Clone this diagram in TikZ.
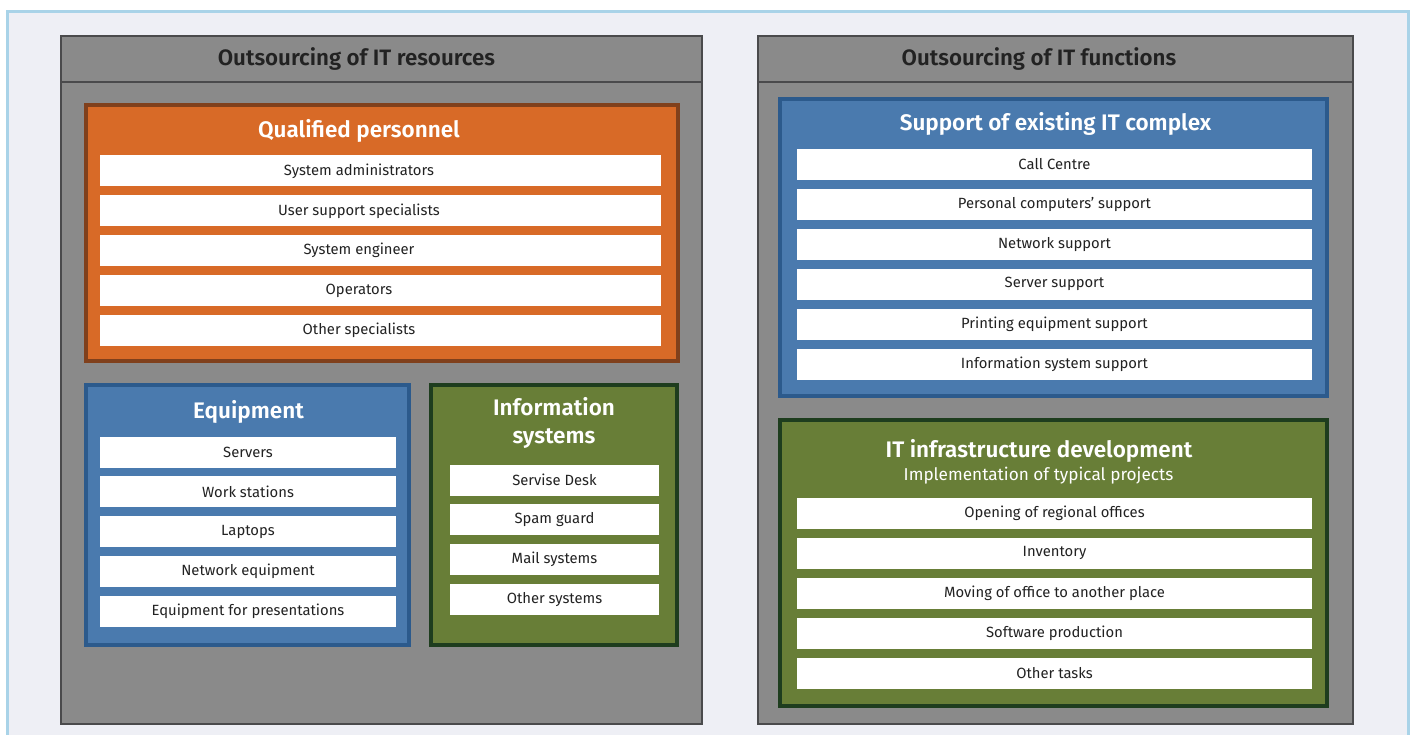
\documentclass[tikz,border=0pt]{standalone}
\usepackage{fontspec}
\setmainfont{Fira Sans}[BoldFont={Fira Sans SemiBold}]
\usetikzlibrary{positioning}

\definecolor{pagebg}{HTML}{EEEFF5}
\definecolor{pageline}{HTML}{A9D3E8}
\definecolor{panelgray}{HTML}{8A8A8A}
\definecolor{paneldark}{HTML}{4A4A4C}
\definecolor{orfill}{HTML}{D86A27}
\definecolor{ordark}{HTML}{80401C}
\definecolor{blfill}{HTML}{4A7AAE}
\definecolor{bldark}{HTML}{2C5A8C}
\definecolor{grfill}{HTML}{687E37}
\definecolor{grdark}{HTML}{1E3D1E}
\definecolor{inktext}{HTML}{222222}

\begin{document}
\begin{tikzpicture}[
    x=1pt, y=-1pt,
    node distance=8.5pt,
    panel/.style={
        rectangle, draw=paneldark, fill=panelgray, line width=2.5pt,
        inner sep=0pt
    },
    head/.style={
        rectangle, draw=paneldark, fill=panelgray, line width=2.5pt,
        minimum width=641pt, minimum height=46pt,
        font=\fontsize{22.3}{25}\selectfont\bfseries, text=inktext
    },
    frame/.style={
        rectangle, line width=4pt, inner sep=0pt
    },
    ttl/.style={
        align=center, text=white,
        font=\fontsize{22.5}{28}\selectfont\bfseries
    },
    item/.style={
        rectangle, fill=white, minimum height=31pt, inner sep=0pt,
        text=inktext, font=\fontsize{14.8}{17}\selectfont
    },
    nudge/.style={execute at begin node={\hskip-#1}},
]
% Page
\path[use as bounding box] (0,0) rectangle (1416,735);
\draw[pageline, fill=pagebg, line width=3pt] (7.5,11.5) rectangle (1408,760);

% Panels
\node[panel, minimum width=641pt, minimum height=688pt] (resP) at (381.5,380) {};
\node[head, nudge=50pt] (resH) at (381.5,59) {Outsourcing of IT resources};
\node[panel, minimum width=595pt, minimum height=688pt] (funP) at (1055.5,380) {};
\node[head, minimum width=595pt, nudge=33pt] (funH) at (1055.5,59) {Outsourcing of IT functions};

% Qualified personnel
\node[frame, draw=ordark, fill=orfill, minimum width=592pt, minimum height=256pt] (pers) at (382,233) {};
\node[ttl] (persT) at (359,131) {Qualified personnel};
\node[item, minimum width=561pt, nudge=43pt] (p1) at (380.5,171) {System administrators};
\node[item, minimum width=561pt, nudge=43pt, below=of p1] (p2) {User support specialists};
\node[item, minimum width=561pt, nudge=43pt, below=of p2] (p3) {System engineer};
\node[item, minimum width=561pt, nudge=43pt, below=of p3] (p4) {Operators};
\node[item, minimum width=561pt, nudge=43pt, below=of p4] (p5) {Other specialists};

% Equipment
\node[frame, draw=bldark, fill=blfill, minimum width=323pt, minimum height=260pt] (equip) at (247.5,515) {};
\node[ttl] (equipT) at (248.5,412) {Equipment};
\node[item, minimum width=296pt] (e1) at (248,452) {Servers};
\node[item, minimum width=296pt, below=of e1] (e2) {Work stations};
\node[item, minimum width=296pt, below=of e2] (e3) {Laptops};
\node[item, minimum width=296pt, below=of e3] (e4) {Network equipment};
\node[item, minimum width=296pt, below=of e4] (e5) {Equipment for presentations};

% Information systems
\node[frame, draw=grdark, fill=grfill, minimum width=246pt, minimum height=260pt] (info) at (554,515) {};
\node[ttl] (infoT) at (554,423) {Information\\systems};
\node[item, minimum width=209pt] (i1) at (554.5,480) {Servise Desk};
\node[item, minimum width=209pt, below=of i1] (i2) {Spam guard};
\node[item, minimum width=209pt, below=of i2] (i3) {Mail systems};
\node[item, minimum width=209pt, below=of i3] (i4) {Other systems};

% Support of existing IT complex
\node[frame, draw=bldark, fill=blfill, minimum width=547pt, minimum height=297pt] (supp) at (1053.5,247.5) {};
\node[ttl] (suppT) at (1055.5,124) {Support of existing IT complex};
\node[item, minimum width=515pt] (s1) at (1054.5,164.5) {Call Centre};
\node[item, minimum width=515pt, below=of s1] (s2) {Personal computers’ support};
\node[item, minimum width=515pt, below=of s2] (s3) {Network support};
\node[item, minimum width=515pt, below=of s3] (s4) {Server support};
\node[item, minimum width=515pt, below=of s4] (s5) {Printing equipment support};
\node[item, minimum width=515pt, below=of s5] (s6) {Information system support};

% IT infrastructure development
\node[frame, draw=grdark, fill=grfill, minimum width=547pt, minimum height=286pt] (infra) at (1053.5,563) {};
\node[ttl] (infraT) at (1039,451) {IT infrastructure development};
\node[text=white, font=\fontsize{17.2}{20}\selectfont] (infraS) at (1038.5,476) {Implementation of typical projects};
\node[item, minimum width=515pt] (d1) at (1054.5,513.5) {Opening of regional offices};
\node[item, minimum width=515pt, below=of d1] (d2) {Inventory};
\node[item, minimum width=515pt, below=of d2] (d3) {Moving of office to another place};
\node[item, minimum width=515pt, below=of d3] (d4) {Software production};
\node[item, minimum width=515pt, below=of d4] (d5) {Other tasks};

\end{tikzpicture}
\end{document}
